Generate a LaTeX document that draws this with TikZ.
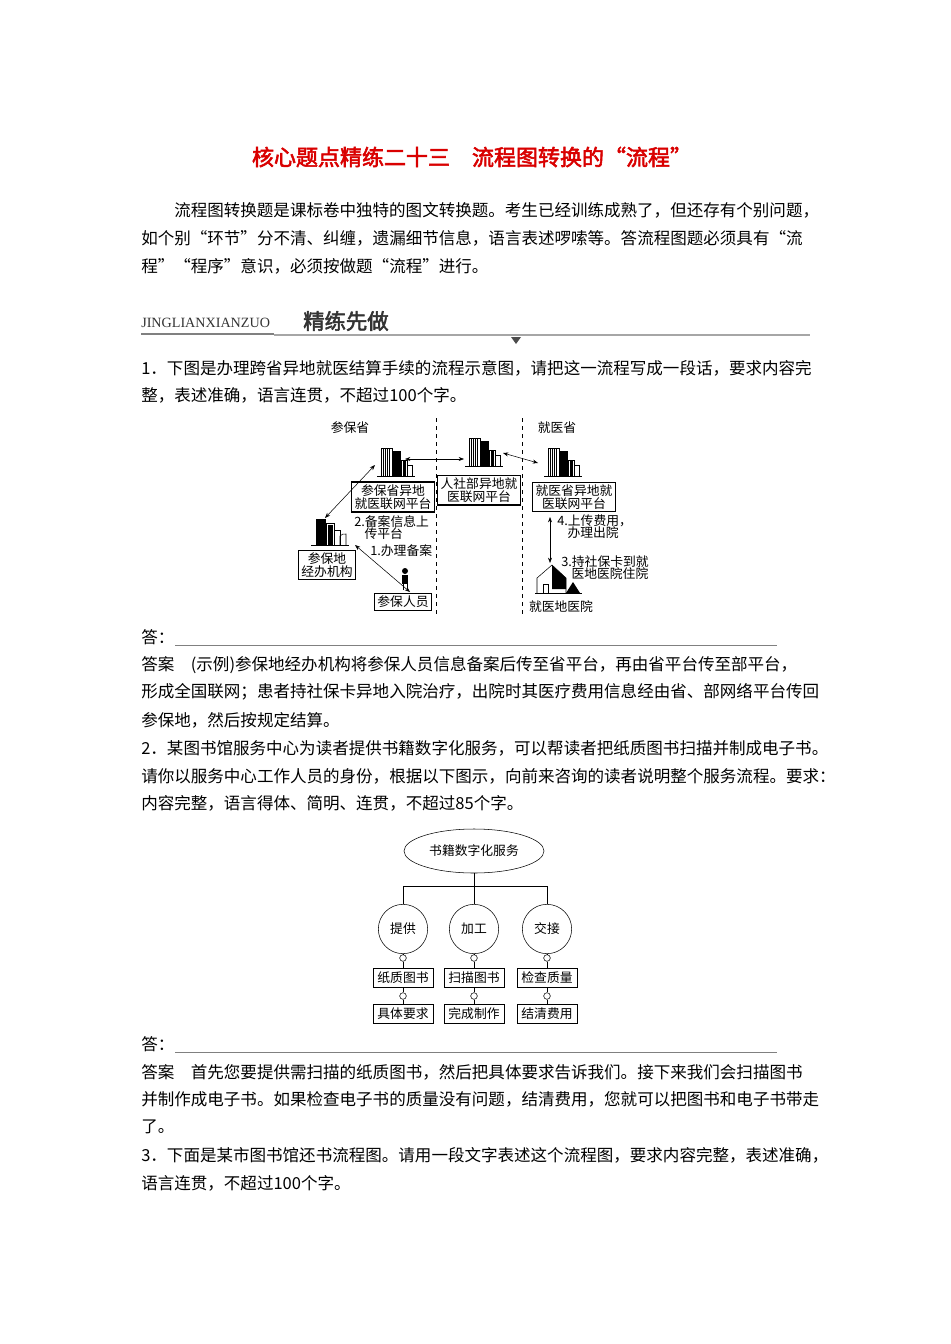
\documentclass[tikz,border=0pt]{standalone}
\usepackage{fontspec}
\setmainfont{Liberation Serif}
\newfontfamily\cjk{Noto Sans CJK SC}
\newfontfamily\cjkb[FakeBold=2.5]{Noto Sans CJK SC}
\usetikzlibrary{shapes.geometric,arrows.meta}
\tikzset{
  txt/.style={anchor=west,inner sep=0pt,font=\cjk\fontsize{12.4}{15}\selectfont},
  dtxt/.style={inner sep=0pt,font=\cjk\fontsize{9.6}{11.5}\selectfont,align=left},
  dbox/.style={draw,thick,inner sep=2pt,font=\cjk\fontsize{9.6}{11.5}\selectfont,align=center},
  arr/.style={{Stealth[length=4pt]}-{Stealth[length=4pt]},thin},
  bld/.pic={
    \draw[thin] (-19,0)--(19,0);
    \draw[thin] (-15,0) rectangle (-4,-28);
    \foreach \i in {-13,-11,-9,-7} \draw[thin] (\i,0)--(\i,-28);
    \fill (-4,0) rectangle (5,-25);
    \draw[thin] (5,0) rectangle (11,-16);
    \fill (7,0) rectangle (10,-15);
    \draw[thin] (11,0) rectangle (16,-11);
  },
  sbld/.pic={
    \draw[thin] (-19,0)--(19,0);
    \fill (-14,0) rectangle (-4,-26);
    \draw[thin] (-4,0) rectangle (4,-22);
    \fill (-2,0) rectangle (3,-20);
    \draw[thin] (4,0) -- (4,-15) -- (10,-15) -- (10,0);
    \draw[thin] (10,0) -- (10,-9) to[bend left] (16,-11) -- (16,0);
  }}
\begin{document}
\begin{tikzpicture}[x=0.75pt,y=-0.75pt]
\useasboundingbox (0,0) rectangle (950,1344);
\fill[white] (0,0) rectangle (950,1344);
% title
\node[inner sep=0pt,text=red!85!black,font=\cjkb\fontsize{16.5}{20}\selectfont] (title) at (472,157) {核心题点精练二十三\hspace{1em}流程图转换的“流程”};
\node[txt] (p1) at (174,210) {流程图转换题是课标卷中独特的图文转换题。考生已经训练成熟了，但还存有个别问题，};
\node[txt] (p2) at (141,238) {如个别“环节”分不清、纠缠，遗漏细节信息，语言表述啰嗦等。答流程图题必须具有“流};
\node[txt] (p3) at (141,266) {程”“程序”意识，必须按做题“流程”进行。};
% header
\node[anchor=west,inner sep=0pt,font=\fontsize{10.6}{12}\selectfont,text=black!80] (hd) at (141,323) {JINGLIANXIANZUO};
\node[anchor=west,inner sep=0pt,font=\cjkb\fontsize{16}{19}\selectfont,text=black!80] (hd2) at (303,321) {精练先做};
\draw[gray,line width=2.2pt] (141,334)--(274,334);
\draw[gray!70,line width=0.8pt] (274,335)--(810,335);
\fill[black!70] (511,337)--(521,337)--(516,344)--cycle;
% q1
\node[txt] (q1a) at (141,368) {1．下图是办理跨省异地就医结算手续的流程示意图，请把这一流程写成一段话，要求内容完};
\node[txt] (q1b) at (141,395) {整，表述准确，语言连贯，不超过100个字。};
% diagram 1
\draw[dashed,thin] (436,418)--(436,615);
\draw[dashed,thin] (522,418)--(522,615);
\node[dtxt] (l1) at (350,428) {参保省};
\node[dtxt] (l2) at (557,428) {就医省};
\pic at (396,476) {bld};
\pic at (484,466) {bld};
\pic at (563,476) {bld};
\pic at (330,545) {sbld};
\coordinate (bL) at (405,459);
\coordinate (bM1) at (464,459);
\coordinate (bM2) at (503,453);
\coordinate (bR) at (538,463);
\coordinate (bL2) at (375,465);
\coordinate (bS) at (325,518);
\coordinate (bS2) at (355,545);
\coordinate (pp) at (410,592);
\node[dbox] (n1) at (393,497) {参保省异地\\[-2pt]就医联网平台};
\node[dbox] (n2) at (479,490) {人社部异地就\\[-2pt]医联网平台};
\node[dbox] (n3) at (574,497) {就医省异地就\\[-2pt]医联网平台};
\node[dbox] (n4) at (327,565) {参保地\\[-2pt]经办机构};
\node[dbox] (n5) at (403,602) {参保人员};
\draw[arr] (bL)--(bM1);
\draw[arr] (bM2)--(bR);
\draw[arr] (bL2)--(bS);
\draw[arr] (bS2)--(pp);
\coordinate (rv1) at (550,517);
\coordinate (rv2) at (550,563);
\draw[arr] (rv1)--(rv2);
\node[dtxt,anchor=north west] (t2) at (354,515) {2.备案信息上\\[-2pt]\hspace*{0.8em}传平台};
\node[dtxt,anchor=west] (t1) at (370,551) {1.办理备案};
\node[dtxt,anchor=north west] (t4) at (557,514) {4.上传费用，\\[-2pt]\hspace*{0.8em}办理出院};
\node[dtxt,anchor=north west] (t3) at (561,555) {3.持社保卡到就\\[-2pt]\hspace*{0.8em}医地医院住院};
\node[dtxt] (t5) at (561,607) {就医地医院};
% person
\fill (405,571) circle (3);
\fill (402,575) rectangle (408,584);
\draw[thin] (403,584)--(403,590) (407,584)--(407,590);
% house
\draw[thin] (537,593)--(537,578)--(552,565)--(566,578)--(566,593);
\fill (552,565)--(566,578)--(566,589)--(552,589)--cycle;
\draw[thin] (543,593) rectangle (548,584);
\fill (566,593)--(573,582)--(580,593)--cycle;
\draw[thin] (535,593)--(582,593);
% answer 1
\node[txt] (a1) at (141,637) {答：};
\draw[gray,thin] (175,645)--(777,645);
\node[txt] (a1a) at (141,665) {答案\hspace{1em}(示例)参保地经办机构将参保人员信息备案后传至省平台，再由省平台传至部平台，};
\node[txt] (a1b) at (141,692) {形成全国联网；患者持社保卡异地入院治疗，出院时其医疗费用信息经由省、部网络平台传回};
\node[txt] (a1c) at (141,720) {参保地，然后按规定结算。};
% q2
\node[txt] (q2a) at (141,748) {2．某图书馆服务中心为读者提供书籍数字化服务，可以帮读者把纸质图书扫描并制成电子书。};
\node[txt] (q2b) at (141,776) {请你以服务中心工作人员的身份，根据以下图示，向前来咨询的读者说明整个服务流程。要求：};
\node[txt] (q2c) at (141,803) {内容完整，语言得体、简明、连贯，不超过85个字。};
% diagram 2
\node[draw,ellipse,minimum width=105pt,minimum height=33pt,inner sep=0pt,font=\cjk\fontsize{9.6}{11}\selectfont] (root) at (474,851) {书籍数字化服务};
\coordinate (hj) at (474,886);
\draw (root.south)--(hj);
\coordinate (hl) at (403,886);
\coordinate (hr) at (547,886);
\draw (hl)--(hr);
\foreach \x/\n/\t/\a/\b in {403/A/提供/纸质图书/具体要求,474/B/加工/扫描图书/完成制作,547/C/交接/检查质量/结清费用}{
  \node[draw,circle,minimum size=37pt,inner sep=0pt,font=\cjk\fontsize{9.6}{11}\selectfont] (c\n) at (\x,929) {\t};
  \node[draw,circle,minimum size=5pt,inner sep=0pt] (s\n) at (\x,958) {};
  \node[draw,minimum width=45pt,minimum height=14pt,inner sep=1pt,font=\cjk\fontsize{9.6}{11}\selectfont] (x\n) at (\x,978) {\a};
  \node[draw,circle,minimum size=5pt,inner sep=0pt] (u\n) at (\x,996) {};
  \node[draw,minimum width=45pt,minimum height=14pt,inner sep=1pt,font=\cjk\fontsize{9.6}{11}\selectfont] (y\n) at (\x,1014) {\b};
  \draw (c\n)--(s\n) (s\n)--(x\n) (x\n)--(u\n) (u\n)--(y\n);
}
\draw (hl)--(cA.north);
\draw (hj)--(cB.north);
\draw (hr)--(cC.north);
% answer 2
\node[txt] (a2) at (141,1044) {答：};
\draw[gray,thin] (175,1052)--(777,1052);
\node[txt] (a2a) at (141,1072) {答案\hspace{1em}首先您要提供需扫描的纸质图书，然后把具体要求告诉我们。接下来我们会扫描图书};
\node[txt] (a2b) at (141,1099) {并制作成电子书。如果检查电子书的质量没有问题，结清费用，您就可以把图书和电子书带走};
\node[txt] (a2c) at (141,1127) {了。};
\node[txt] (q3a) at (141,1155) {3．下面是某市图书馆还书流程图。请用一段文字表述这个流程图，要求内容完整，表述准确，};
\node[txt] (q3b) at (141,1183) {语言连贯，不超过100个字。};
\end{tikzpicture}
\end{document}
